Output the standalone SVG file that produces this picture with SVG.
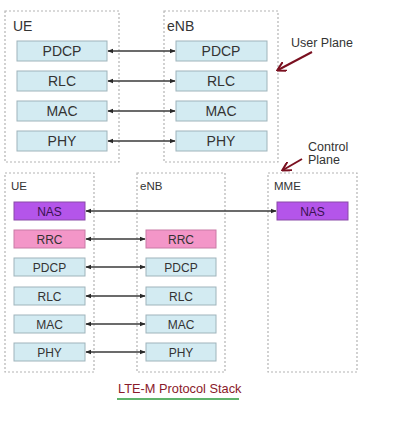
<svg xmlns="http://www.w3.org/2000/svg" width="408" height="422" viewBox="0 0 408 422">
<style>
.frame{fill:none;stroke:#b4b4b4;stroke-width:1.2;stroke-dasharray:2 2}
.blue{fill:#d3ebf2;stroke:#9fb4bb;stroke-width:1}
.nas{fill:#b455ea;stroke:#8a4aa8;stroke-width:1}
.rrc{fill:#f396c8;stroke:#c97aa6;stroke-width:1}
.lbl{font-family:"Liberation Sans",Arial,sans-serif;font-size:14px;fill:#333;text-anchor:middle}
.sm{font-family:"Liberation Sans",Arial,sans-serif;font-size:12px;fill:#333;text-anchor:middle}
.title{font-family:"Liberation Sans",Arial,sans-serif;font-size:14px;fill:#333}
.tsm{font-family:"Liberation Sans",Arial,sans-serif;font-size:11.5px;fill:#333}
.ann{font-family:"Liberation Sans",Arial,sans-serif;font-size:12.5px;fill:#333}
.conn{stroke:#3a3a3a;stroke-width:1.3;fill:none;marker-start:url(#ah);marker-end:url(#ah)}
.red{stroke:#7a1020;stroke-width:2;fill:none;marker-end:url(#rh)}
</style>
<defs>
<marker id="ah" viewBox="0 0 10 10" refX="9" refY="5" markerWidth="6" markerHeight="6" orient="auto-start-reverse" markerUnits="userSpaceOnUse"><path d="M0,1 L10,5 L0,9 z" fill="#2a2a2a"/></marker>
<marker id="rh" viewBox="0 0 10 10" refX="8" refY="5" markerWidth="10" markerHeight="10" orient="auto" markerUnits="userSpaceOnUse"><path d="M0,0 L9,5 L0,10" fill="none" stroke="#7a1020" stroke-width="2"/></marker>
</defs>

<g id="up-ue">
<rect class="frame" x="5" y="11" width="114" height="151"/>
<text class="title" x="13" y="31">UE</text>
<rect class="blue" x="17" y="41" width="90" height="20"/><text class="lbl" x="62" y="56">PDCP</text>
<rect class="blue" x="17" y="71" width="90" height="20"/><text class="lbl" x="62" y="86">RLC</text>
<rect class="blue" x="17" y="101" width="90" height="20"/><text class="lbl" x="62" y="116">MAC</text>
<rect class="blue" x="17" y="131" width="90" height="20"/><text class="lbl" x="62" y="146">PHY</text>
</g>
<g id="up-enb">
<rect class="frame" x="164" y="11" width="114" height="151"/>
<text class="title" x="167" y="31">eNB</text>
<rect class="blue" x="176" y="41" width="91" height="20"/><text class="lbl" x="221" y="56">PDCP</text>
<rect class="blue" x="176" y="71" width="91" height="20"/><text class="lbl" x="221" y="86">RLC</text>
<rect class="blue" x="176" y="101" width="91" height="20"/><text class="lbl" x="221" y="116">MAC</text>
<rect class="blue" x="176" y="131" width="91" height="20"/><text class="lbl" x="221" y="146">PHY</text>
</g>

<g id="cp-ue">
<rect class="frame" x="5" y="173" width="89" height="199"/>
<text class="tsm" x="11" y="190">UE</text>
<rect class="nas" x="14" y="202" width="71" height="18"/><text class="sm" x="49.5" y="215.5" style="fill:#3a1250">NAS</text>
<rect class="rrc" x="14" y="230" width="71" height="18"/><text class="sm" x="49.5" y="243.5">RRC</text>
<rect class="blue" x="14" y="258" width="71" height="18"/><text class="sm" x="49.5" y="271.5">PDCP</text>
<rect class="blue" x="14" y="287" width="71" height="18"/><text class="sm" x="49.5" y="300.5">RLC</text>
<rect class="blue" x="14" y="315" width="71" height="18"/><text class="sm" x="49.5" y="328.5">MAC</text>
<rect class="blue" x="14" y="343" width="71" height="18"/><text class="sm" x="49.5" y="356.5">PHY</text>
</g>
<g id="cp-enb">
<rect class="frame" x="137" y="173" width="88" height="199"/>
<text class="tsm" x="140" y="190">eNB</text>
<rect class="rrc" x="146" y="230" width="70" height="18"/><text class="sm" x="181" y="243.5">RRC</text>
<rect class="blue" x="146" y="258" width="70" height="18"/><text class="sm" x="181" y="271.5">PDCP</text>
<rect class="blue" x="146" y="287" width="70" height="18"/><text class="sm" x="181" y="300.5">RLC</text>
<rect class="blue" x="146" y="315" width="70" height="18"/><text class="sm" x="181" y="328.5">MAC</text>
<rect class="blue" x="146" y="343" width="70" height="18"/><text class="sm" x="181" y="356.5">PHY</text>
</g>
<g id="cp-mme">
<rect class="frame" x="268" y="173" width="89" height="199"/>
<text class="tsm" x="274" y="190">MME</text>
<rect class="nas" x="277" y="202" width="71" height="18"/><text class="sm" x="312.5" y="215.5" style="fill:#3a1250">NAS</text>
</g>

<g id="connectors">
<line class="conn" x1="108" y1="51" x2="175" y2="51"/>
<line class="conn" x1="108" y1="81" x2="175" y2="81"/>
<line class="conn" x1="108" y1="111" x2="175" y2="111"/>
<line class="conn" x1="108" y1="141" x2="175" y2="141"/>
<line class="conn" x1="86" y1="211" x2="276" y2="211"/>
<line class="conn" x1="86" y1="239" x2="145" y2="239"/>
<line class="conn" x1="86" y1="267" x2="145" y2="267"/>
<line class="conn" x1="86" y1="296" x2="145" y2="296"/>
<line class="conn" x1="86" y1="324" x2="145" y2="324"/>
<line class="conn" x1="86" y1="352" x2="145" y2="352"/>
<line class="red" x1="312" y1="52" x2="278" y2="70"/>
<line class="red" x1="302" y1="159" x2="283" y2="170"/>
</g>

<g id="annotations">
<text class="ann" x="291" y="47">User Plane</text>
<text class="ann" x="308" y="151">Control</text>
<text class="ann" x="308" y="164">Plane</text>
<text x="118" y="393" style="font-family:'Liberation Sans',Arial,sans-serif;font-size:12.8px;fill:#8a1a2a">LTE-M Protocol Stack</text>
<line x1="117" y1="399" x2="239" y2="399" stroke="#2a9a3a" stroke-width="1.5"/>
</g>
</svg>
